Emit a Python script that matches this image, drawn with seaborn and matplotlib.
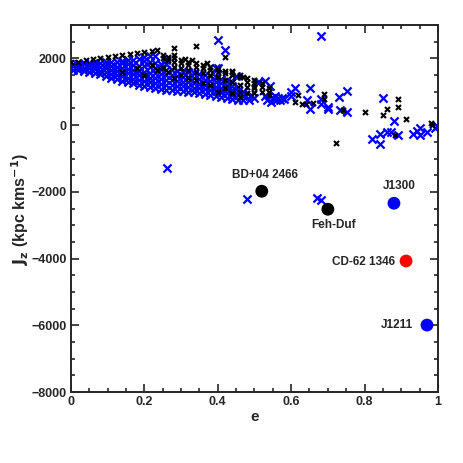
import numpy as np
import pandas as pd
import matplotlib
matplotlib.use("Agg")
import matplotlib.pyplot as plt
from matplotlib.ticker import MultipleLocator
import seaborn as sns

# --- dense band: columns of eccentricity, each with a few Jz values ---
blue_band_e = [0.005, 0.02, 0.035, 0.05, 0.065, 0.08, 0.095, 0.11, 0.125, 0.14,
               0.155, 0.17, 0.185, 0.2, 0.215, 0.23, 0.245, 0.26, 0.275, 0.29,
               0.305, 0.32, 0.335, 0.35, 0.365, 0.38, 0.395, 0.41, 0.425, 0.44,
               0.455, 0.47]
blue_band_jz = [
    [1660, 1760, 1840], [1640, 1740, 1840], [1620, 1720, 1820, 1870],
    [1600, 1700, 1800, 1870], [1570, 1680, 1780, 1870], [1520, 1630, 1740, 1850],
    [1470, 1590, 1700, 1810, 1890], [1420, 1540, 1660, 1780, 1900],
    [1380, 1500, 1620, 1740, 1880], [1330, 1460, 1590, 1720, 1850, 1930],
    [1290, 1420, 1550, 1690, 1820, 1940], [1250, 1380, 1520, 1660, 1800, 1960],
    [1210, 1350, 1490, 1630, 1780, 1990], [1170, 1310, 1460, 1600, 1760, 1920, 2030],
    [1130, 1280, 1420, 1570, 1730, 1890, 2060], [1100, 1250, 1400, 1550, 1700, 1870, 2080],
    [1080, 1230, 1380, 1530, 1680, 1840], [1060, 1210, 1360, 1510, 1660, 1820, 1950],
    [1040, 1190, 1340, 1490, 1640], [1020, 1170, 1320, 1470, 1620],
    [1010, 1160, 1300, 1450, 1600], [990, 1140, 1290, 1430, 1580],
    [985, 1120, 1260, 1400, 1550], [960, 1100, 1240, 1380, 1520],
    [930, 1070, 1210, 1350, 1500], [900, 1040, 1180, 1320, 1470],
    [870, 1010, 1150, 1290, 1430, 1700], [840, 980, 1110, 1250, 1380],
    [810, 950, 1080, 1210, 1340], [780, 910, 1040, 1170, 1300],
    [760, 890, 1010, 1150], [740, 860, 980],
]

black_band_e = [0.0, 0.02, 0.04, 0.06, 0.08, 0.1, 0.12, 0.14, 0.16, 0.18, 0.2,
                0.22, 0.235, 0.25, 0.265, 0.28, 0.3, 0.32, 0.34, 0.36, 0.38,
                0.4, 0.42, 0.44, 0.46, 0.48, 0.5, 0.52, 0.54]
black_band_jz = [
    [1880], [1900], [1940], [1990], [2010], [2040], [2070], [1600, 2110],
    [2140], [1700, 2160], [1500, 2180], [1800, 2220], [1650, 2240],
    [1700, 2000, 2100], [1600, 1950, 2050], [1400, 1750, 1900, 2000],
    [1500, 1700, 1850, 1960], [1400, 1650, 1800, 1900], [1350, 1600, 1750, 1860],
    [1250, 1550, 1700, 1800], [1200, 1500, 1650, 1740], [1000, 1450, 1600, 1680],
    [1100, 1350, 1550, 1630], [950, 1300, 1500, 1580], [850, 1000, 1200, 1450, 1510],
    [950, 1150, 1300, 1400], [950, 1100, 1250, 1350], [1000, 1150, 1250],
    [900, 1000, 1100],
]

# --- scattered points outside the band ---
black_e = [0.282, 0.341, 0.282, 0.312, 0.33, 0.371, 0.421, 0.44, 0.47, 0.50,
           0.62, 0.61, 0.63, 0.64, 0.66, 0.69, 0.69, 0.722, 0.74, 0.80,
           0.862, 0.851, 0.892, 0.892, 0.912, 0.883, 0.981, 0.985]
black_jz = [2300, 2360, 2100, 1980, 1940, 1850, 2040, 1630, 1430, 1130,
            890, 690, 630, 620, 660, 940, 770, -530, 460, 380,
            470, 290, 780, 530, 180, -310, 60, 10]

blue_e = [0.401, 0.421, 0.401, 0.45, 0.485, 0.49, 0.50, 0.51, 0.512, 0.53,
          0.542, 0.53, 0.535, 0.545, 0.55, 0.555, 0.56, 0.565, 0.57, 0.575,
          0.58, 0.61, 0.60, 0.60, 0.642, 0.651, 0.651, 0.68, 0.68, 0.70,
          0.70, 0.681, 0.731, 0.751, 0.733, 0.751, 0.851, 0.881, 0.821, 0.842,
          0.842, 0.86, 0.871, 0.892, 0.931, 0.942, 0.951, 0.951, 0.971, 0.992,
          0.998, 0.261, 0.480, 0.670, 0.680]
blue_jz = [2557, 2250, 1700, 1480, 760, 900, 820, 1280, 1300, 1330,
           1180, 860, 760, 700, 820, 880, 760, 820, 740, 800,
           780, 1100, 990, 860, 760, 1100, 490, 770, 640, 540,
           470, 2660, 840, 1030, 460, 390, 810, 120, -410, -260,
           -560, -210, -210, -310, -280, -190, -80, -310, -210, -80,
           -20, -1270, -2200, -2180, -2250]

# --- named stars ---
star_names = ["BD+04 2466", "Feh-Duf", "J1300", "CD-62 1346", "J1211"]
star_e = [0.52, 0.70, 0.88, 0.913, 0.97]
star_jz = [-1980, -2520, -2340, -4070, -5990]
star_colors = ["black", "black", "blue", "red", "blue"]
label_e = [0.53, 0.715, 0.894, 0.883, 0.932]
label_jz = [-1500, -3000, -1830, -4090, -6000]
label_ha = ["center", "center", "center", "right", "right"]


def flatten(cols_e, cols_jz):
    xs, ys = [], []
    for e, vals in zip(cols_e, cols_jz):
        for v in vals:
            xs.append(e)
            ys.append(v)
    return xs, ys


bk_x, bk_y = flatten(black_band_e, black_band_jz)
bl_x, bl_y = flatten(blue_band_e, blue_band_jz)
black_df = pd.DataFrame({"e": bk_x + black_e, "jz": bk_y + black_jz})
blue_df = pd.DataFrame({"e": bl_x + blue_e, "jz": bl_y + blue_jz})

sns.set_style("ticks")
plt.rcParams["font.family"] = ["Liberation Sans", "DejaVu Sans"]
plt.rcParams["font.weight"] = "bold"

fig = plt.figure(figsize=(4.63, 4.63), dpi=100)
ax = fig.add_axes([0.153, 0.153, 0.793, 0.793])

sns.scatterplot(data=blue_df, x="e", y="jz", marker="x", color="blue",
                s=34, linewidth=1.6, ax=ax, zorder=2)
sns.scatterplot(data=black_df, x="e", y="jz", marker="x", color="black",
                s=13, linewidth=1.5, ax=ax, zorder=3)
sns.scatterplot(x=star_e, y=star_jz, hue=star_names, palette=star_colors,
                s=85, linewidth=0, legend=False, ax=ax, zorder=4)

for name, x, y, ha in zip(star_names, label_e, label_jz, label_ha):
    ax.text(x, y, name, ha=ha, va="center", fontsize=8.5, fontweight="bold")

ax.set_xlim(0, 1)
ax.set_ylim(-8000, 3000)
ax.xaxis.set_minor_locator(MultipleLocator(0.05))
ax.yaxis.set_minor_locator(MultipleLocator(500))
ax.set_xticks([0, 0.2, 0.4, 0.6, 0.8, 1.0])
ax.set_xticklabels(["0", "0.2", "0.4", "0.6", "0.8", "1"])
ax.set_yticks([-8000, -6000, -4000, -2000, 0, 2000])
ax.set_yticklabels(["\u22128000", "\u22126000", "\u22124000", "\u22122000", "0", "2000"])
ax.tick_params(which="both", direction="in", top=True, right=True,
               labelsize=9, width=1.2, pad=3)
ax.tick_params(which="major", length=6)
ax.tick_params(which="minor", length=3)
for sp in ax.spines.values():
    sp.set_linewidth(1.4)

ax.set_xlabel("e", fontsize=11, fontweight="bold", labelpad=1)
ax.set_ylabel(r"$\mathbf{J_z}$ (kpc kms$^{\mathbf{-1}}$)", fontsize=11.5,
              fontweight="bold", labelpad=0)

fig.savefig("out.png", dpi=100)
